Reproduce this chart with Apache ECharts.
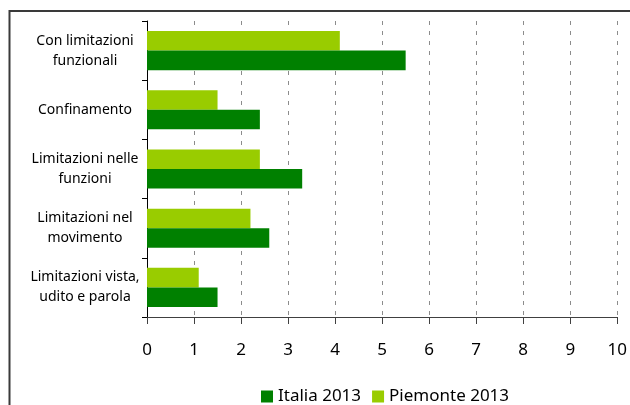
<!DOCTYPE html>
<html>
<head>
<meta charset="utf-8">
<script src="https://cdn.jsdelivr.net/npm/echarts@6/dist/echarts.min.js"></script>
<style>
  html, body { margin: 0; padding: 0; background: #fff; }
  #chart { width: 630px; height: 405px; }
</style>
</head>
<body>
<div id="chart"></div>
<script>
// Categories (top to bottom)
const categories = [
  'Con limitazioni\nfunzionali',
  'Confinamento',
  'Limitazioni nelle\nfunzioni',
  'Limitazioni nel\nmovimento',
  'Limitazioni vista,\nudito e parola'
];
const seriesNames = ['Italia 2013', 'Piemonte 2013'];
const italia2013 = [5.5, 2.4, 3.3, 2.6, 1.5];
const piemonte2013 = [4.1, 1.5, 2.4, 2.2, 1.1];
const xTicks = { min: 0, max: 10, interval: 1 };

const FONT = '"Noto Sans", "Open Sans", sans-serif';
const chart = echarts.init(document.getElementById('chart'), null, { renderer: 'canvas' });

chart.setOption({
  animation: false,
  backgroundColor: '#fff',
  grid: { left: 147, right: 12, top: 21, bottom: 88, containLabel: false },
  legend: {
    top: 383,
    left: 256,
    itemWidth: 12,
    itemHeight: 12,
    itemGap: 11,
    icon: 'rect',
    textStyle: { fontFamily: FONT, fontSize: 17, color: '#000' },
    data: seriesNames
  },
  xAxis: {
    type: 'value',
    min: xTicks.min,
    max: xTicks.max,
    interval: xTicks.interval,
    axisLine: { show: true, lineStyle: { color: '#404040', width: 1 } },
    axisTick: { show: true, length: 7, lineStyle: { color: '#404040' } },
    axisLabel: { fontFamily: FONT, fontSize: 17, color: '#000', margin: 25 },
    splitLine: { show: true, lineStyle: { color: '#8c8c8c', type: [4, 6], width: 1 } }
  },
  yAxis: {
    type: 'category',
    inverse: true,
    data: categories,
    axisLine: { show: true, lineStyle: { color: '#000', width: 1 } },
    axisTick: { show: true, length: 5, lineStyle: { color: '#000' } },
    axisLabel: {
      fontFamily: FONT, fontSize: 14, color: '#000',
      align: 'center', margin: 62, lineHeight: 20
    }
  },
  // Piemonte listed first so its bar sits above Italia within each category
  series: [
    {
      name: seriesNames[1], type: 'bar', data: piemonte2013,
      itemStyle: { color: '#99cc00' },
      barGap: '0%', barCategoryGap: '34%'
    },
    {
      name: seriesNames[0], type: 'bar', data: italia2013,
      itemStyle: { color: '#008000' },
      barGap: '0%', barCategoryGap: '34%'
    }
  ],
  graphic: [
    {
      type: 'rect',
      shape: { x: 9.5, y: 11, width: 700, height: 500 },
      style: { fill: 'none', stroke: '#3a3a3a', lineWidth: 2 },
      silent: true
    }
  ]
});
</script>
</body>
</html>
